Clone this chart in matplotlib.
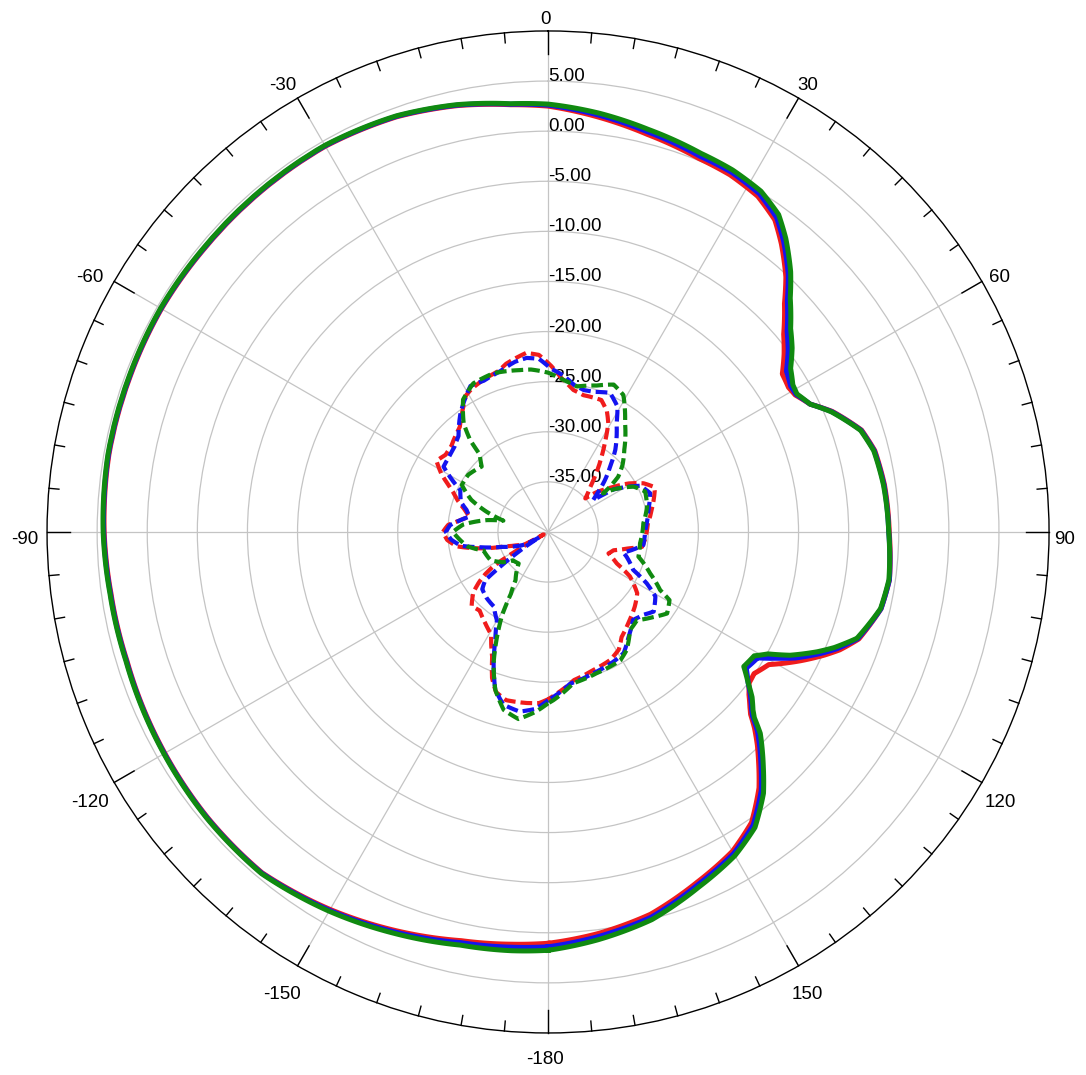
import numpy as np
import matplotlib
matplotlib.use("Agg")
import matplotlib.pyplot as plt

plt.rcParams['font.family'] = ['Liberation Sans', 'DejaVu Sans']

# ---- co-polar (solid) patterns, dB vs angle (deg) ----
ang_main = [-180, -175, -168, -159, -150, -140, -130, -119, -107, -98, -90, -80, -70, -60,
            -50, -40, -30, -20, -12, -5, 0, 7, 14, 22, 27, 32, 36, 39, 43, 46, 50, 53,
            56, 59, 61, 64, 67, 72, 76, 82, 90, 98, 103, 109, 112, 114, 117, 119, 121,
            124.5, 127, 129, 131, 132, 133.5, 135.5, 137.5, 140.5, 145, 150, 157, 165,
            173, 180]
red_main = [1.05, 1.3, 1.7, 2.6, 3.5, 4.4, 4.35, 4.15, 3.95, 4.05, 4.3, 4.5, 4.5, 4.55,
            4.45, 4.45, 4.45, 4.1, 3.5, 2.8, 2.5, 1.7, 0.9, 0.2, 0.0, -0.5, -1.5, -3.0,
            -5.2, -7.2, -9.3, -10.5, -11.8, -12.0, -11.8, -10.9, -9.2, -7.1, -6.4, -6.1,
            -5.95, -5.6, -5.9, -7.2, -8.6, -9.8, -11.7, -13.0, -14.3, -15.05, -14.9,
            -14.2, -13.3, -12.8, -11.6, -10.2, -8.9, -6.9, -4.6, -3.2, -2.0, -0.5, 0.4,
            1.05]
blue_main = [1.4, 1.6, 1.9, 2.75, 3.6, 4.45, 4.4, 4.2, 4.0, 4.1, 4.35, 4.55, 4.55, 4.6,
             4.5, 4.5, 4.5, 4.15, 3.55, 2.85, 2.6, 1.9, 1.15, 0.45, 0.3, -0.2, -1.2,
             -2.65, -4.85, -6.8, -8.85, -10.0, -11.3, -11.75, -11.7, -10.9, -9.25, -7.15,
             -6.45, -6.15, -6.0, -5.6, -5.9, -7.3, -8.9, -10.2, -12.3, -14.0, -15.6,
             -16.0, -15.0, -14.0, -13.1, -12.55, -11.2, -9.85, -8.55, -6.55, -4.3, -2.95,
             -1.75, -0.2, 0.7, 1.4]
green_main = [1.75, 1.95, 2.15, 2.9, 3.7, 4.5, 4.45, 4.25, 4.05, 4.15, 4.4, 4.6, 4.6, 4.65,
              4.55, 4.55, 4.55, 4.2, 3.6, 2.9, 2.7, 2.1, 1.4, 0.75, 0.55, 0.1, -0.85,
              -2.3, -4.5, -6.4, -8.4, -9.5, -10.8, -11.5, -11.6, -10.9, -9.3, -7.2, -6.5,
              -6.2, -6.0, -5.65, -5.95, -7.4, -9.2, -10.6, -12.9, -14.9, -16.0, -16.3,
              -15.0, -13.8, -12.9, -12.3, -10.8, -9.5, -8.2, -6.2, -4.0, -2.7, -1.5, 0.05,
              1.0, 1.75]

# ---- cross-polar (dashed) patterns ----
ang_red_x = [-180, -177, -173, -166, -162, -159, -156, -151, -145, -139, -134, -129, -126,
             -124, -122, -120.5, -119.5, -118, -113, -108.5, -103.5, -99, -94.5, -90, -86,
             -83, -79, -75, -71, -67.5, -65, -61.5, -57.5, -53, -48.5, -43, -40, -36, -31,
             -28, -23, -17, -14, -11, -7, -3, 1, 5, 10, 14.5, 22, 26, 29, 32, 35, 39, 43,
             48, 50.5, 54, 59, 63, 67, 69, 76.5, 85, 94.5, 99, 101.5, 105.5, 109.5, 114.5,
             118.5, 124.5, 130.5, 138.5, 145, 149, 154, 162, 170, 176, 180]
red_x = [-23.3, -22.9, -22.8, -22.7, -23.2, -24.4, -26.3, -28.3, -29.0, -29.6, -29.4, -30.4,
         -31.5, -32.4, -33.6, -36.5, -39.5, -37.3, -36.6, -35.5, -33.0, -30.8, -29.9, -29.5,
         -30.0, -31.0, -32.0, -31.4, -30.5, -29.8, -29.1, -27.9, -26.8, -27.2, -27.1, -26.6,
         -26.3, -25.4, -24.1, -23.8, -23.5, -23.2, -22.7, -22.4, -22.0, -22.3, -23.4, -24.6,
         -25.6, -25.9, -25.8, -26.6, -27.6, -29.2, -30.6, -32.3, -33.8, -35.0, -33.8, -32.6,
         -30.6, -29.3, -28.5, -28.6, -29.3, -30.0, -30.3, -30.5, -31.8, -33.2, -33.6, -32.5,
         -30.7, -29.2, -28.6, -27.9, -27.2, -26.3, -25.8, -25.5, -25.0, -24.0, -23.3]

ang_blue_x = [-180, -176, -171, -165.5, -161.5, -157.5, -154, -150, -144, -137, -131, -127.5,
              -126, -124, -121.5, -119, -113, -108, -103, -99, -94.5, -90, -86, -83, -79,
              -75, -71, -64.5, -61, -58, -53, -48, -43, -36.5, -28, -23, -17, -11, -7, -3,
              1, 5.5, 10, 14, 18, 24, 29, 32.3, 39.3, 43.5, 47.6, 52, 54.8, 57, 63.4, 69.2,
              77.6, 88.8, 97.8, 105.3, 107.4, 114, 117.5, 121, 127, 131, 136, 142.5, 148,
              153.3, 162, 171.7, 178, 180]
blue_x = [-23.2, -22.3, -21.85, -22.2, -23.4, -25.8, -28.0, -29.8, -30.8, -31.0, -31.3,
          -32.1, -34.0, -36.3, -39.0, -37.5, -36.3, -35.2, -33.2, -31.2, -30.3, -29.8, -30.2,
          -31.0, -32.0, -31.6, -30.8, -30.3, -28.9, -27.7, -27.6, -27.4, -26.9, -25.3, -23.5,
          -23.6, -23.3, -22.7, -22.5, -22.7, -23.7, -24.3, -25.1, -25.4, -25.3, -24.8, -25.7,
          -27.2, -29.4, -31.0, -32.3, -33.8, -34.5, -32.2, -29.7, -29.1, -29.75, -30.3,
          -30.4, -32.2, -31.8, -30.7, -28.9, -27.5, -26.8, -27.4, -27.8, -26.8, -25.75,
          -25.5, -25.2, -24.7, -23.55, -23.2]

ang_green_x = [-180, -176, -171, -166, -161.5, -157.5, -154, -151, -149, -146, -137, -129,
               -124, -116, -106, -100, -93, -90, -85, -79, -75.8, -71.7, -67.3, -61.4, -54.4,
               -45.4, -41.4, -40.3, -37.9, -32.7, -26.7, -19, -10, -6, 0, 5.8, 11.2, 18.4,
               24, 28.8, 35.3, 42.8, 48, 51.8, 53.8, 55, 57, 62, 67.4, 75.6, 84.8, 97, 105.3,
               112.1, 117.4, 119.3, 124.4, 129, 134.8, 140.1, 146.3, 150.6, 161, 170.5,
               178.2, 180]
green_x = [-22.9, -22.0, -21.1, -21.7, -23.4, -25.8, -28.4, -30.6, -32.8, -34.2, -35.7,
           -35.5, -34.6, -33.6, -33.3, -31.8, -30.9, -30.5, -31.5, -33.8, -35.4, -33.5, -31.7,
           -30.2, -30.2, -30.7, -29.7, -28.0, -26.3, -24.3, -23.4, -23.25, -23.6, -23.7,
           -24.1, -24.75, -25.2, -24.6, -23.9, -24.4, -26.7, -28.8, -30.0, -31.1, -32.3,
           -33.3, -32.2, -30.35, -29.5, -29.8, -30.45, -30.75, -30.65, -29.0, -27.4, -26.1,
           -25.6, -26.5, -27.5, -27.25, -25.85, -25.3, -25.1, -24.7, -23.2, -22.9]

r_ticks = [5, 0, -5, -10, -15, -20, -25, -30, -35]
theta_ticks = [0, 30, 60, 90, 120, 150, 180, 210, 240, 270, 300, 330]
theta_labels = ['0', '30', '60', '90', '120', '150', '-180', '-150', '-120', '-90', '-60', '-30']

RED, BLUE, GREEN = '#f01c1c', '#1414f0', '#108a10'
PX_PER_DB = 10.02  # outer ring radius in pixels / 50 dB

fig = plt.figure(figsize=(10.86, 10.75), dpi=100)
ax = fig.add_axes([0.0433, 0.0391, 0.9227, 0.9321], projection='polar')
ax.set_theta_zero_location('N')
ax.set_theta_direction(-1)
ax.set_ylim(-40, 10)

ax.set_xticks(np.deg2rad(theta_ticks))
ax.set_xticklabels([])
ax.set_yticks(r_ticks)
ax.set_yticklabels([])
ax.tick_params(length=0)
ax.grid(True, color='#c4c4c4', linewidth=0.9)
ax.spines['polar'].set_color('black')
ax.spines['polar'].set_linewidth(1.0)


def polar_line(ang, vals, col, **kw):
    line, = ax.plot(np.deg2rad(ang), vals, color=col, zorder=3, **kw)
    # draw arcs between the samples, not straight chords
    line.get_path()._interpolation_steps = 30
    return line


# solid lines
for ang, vals, col in [(ang_main, red_main, RED), (ang_main, blue_main, BLUE),
                       (ang_main, green_main, GREEN)]:
    polar_line(ang, vals, col, lw=3.6, solid_joinstyle='round')

# dashed lines
for ang, vals, col in [(ang_red_x, red_x, RED), (ang_blue_x, blue_x, BLUE),
                       (ang_green_x, green_x, GREEN)]:
    polar_line(ang, vals, col, lw=3.0, dashes=(2.8, 1.2))

# ticks on the outer ring (inward)
for d in range(0, 360, 5):
    t = np.deg2rad(d)
    length = 2.3 if d % 30 == 0 else 1.0
    ax.plot([t, t], [10, 10 - length], color='black', lw=1.0, clip_on=False, zorder=4)

# radial labels along the 0 deg line
for v in r_ticks:
    ax.text(0, v, f'{v:.2f}', ha='left', va='baseline', fontsize=13.5, zorder=2.5)

# angle labels
for d, lab in zip(theta_ticks, theta_labels):
    r_px = 520 + 6 * abs(np.sin(np.deg2rad(2 * d)))
    ax.annotate(lab, xy=(np.deg2rad(d), -40 + r_px / PX_PER_DB), xytext=(-3, -8),
                textcoords='offset pixels', ha='center', va='center', fontsize=13.5,
                annotation_clip=False)

fig.savefig('out.png', dpi=100)
